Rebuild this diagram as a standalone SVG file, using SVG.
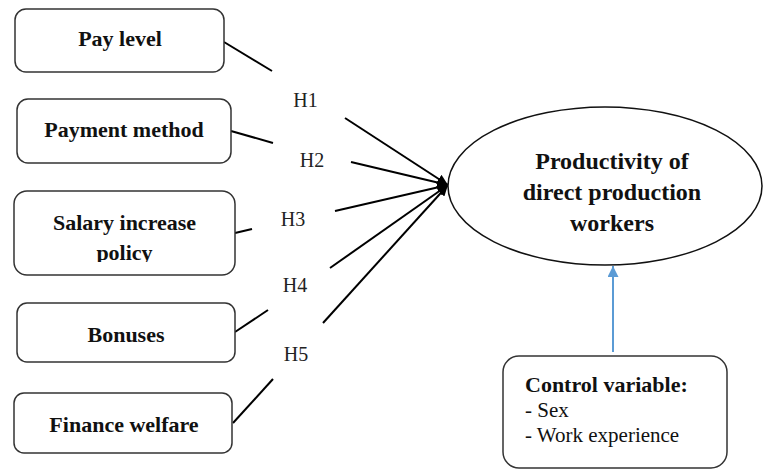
<svg xmlns="http://www.w3.org/2000/svg" width="764" height="470" viewBox="0 0 764 470">
<defs>
<style>
.box{fill:#fff;stroke:#333;stroke-width:1.5}
.lbl{font-family:"Liberation Serif","Times New Roman","DejaVu Serif",serif;font-weight:bold;font-size:22px;fill:#111;text-anchor:middle}
.h{font-family:"Liberation Serif","Times New Roman","DejaVu Serif",serif;font-size:20px;fill:#222;text-anchor:middle}
.ln{stroke:#000;stroke-width:2;fill:none}
.reg{font-family:"Liberation Serif","Times New Roman","DejaVu Serif",serif;font-size:21px;fill:#111}
</style>
<marker id="ah" markerUnits="userSpaceOnUse" markerWidth="12" markerHeight="10" refX="11" refY="5" orient="auto">
<path d="M0,0 L11,5 L0,10 Z" fill="#000"/>
</marker>
<marker id="bh" markerUnits="userSpaceOnUse" markerWidth="12" markerHeight="12" refX="11" refY="5.5" orient="auto">
<path d="M0,0 L11,5.5 L0,11 Z" fill="#5b9bd5"/>
</marker>
<clipPath id="clipS"><rect x="14" y="191" width="222" height="71"/></clipPath>
</defs>
<g id="connectors">
<line class="ln" x1="224" y1="42" x2="272" y2="71"/>
<line class="ln" x1="345" y1="118" x2="448" y2="185" marker-end="url(#ah)"/>
<line class="ln" x1="231" y1="131" x2="273" y2="143"/>
<line class="ln" x1="351" y1="162" x2="448" y2="185" marker-end="url(#ah)"/>
<line class="ln" x1="235" y1="233" x2="252" y2="229"/>
<line class="ln" x1="335" y1="211" x2="448" y2="185" marker-end="url(#ah)"/>
<line class="ln" x1="235" y1="332" x2="268" y2="310"/>
<line class="ln" x1="330" y1="268" x2="448" y2="185" marker-end="url(#ah)"/>
<line class="ln" x1="233" y1="423" x2="273" y2="379"/>
<line class="ln" x1="323" y1="323" x2="448" y2="185" marker-end="url(#ah)"/>
<line x1="613" y1="352" x2="613" y2="266" stroke="#5b9bd5" stroke-width="2" marker-end="url(#bh)"/>
<text class="h" x="305.5" y="107">H1</text>
<text class="h" x="312" y="167">H2</text>
<text class="h" x="293" y="226">H3</text>
<text class="h" x="295" y="292">H4</text>
<text class="h" x="296" y="361">H5</text>
</g>
<g id="pay-level">
<rect class="box" x="15" y="9" width="209" height="63" rx="11"/>
<text class="lbl" x="120" y="46">Pay level</text>
</g>
<g id="payment-method">
<rect class="box" x="17" y="99" width="214" height="64" rx="11"/>
<text class="lbl" x="124" y="137">Payment method</text>
</g>
<g id="salary-increase-policy">
<rect class="box" x="14" y="191" width="221" height="84" rx="13"/>
<g clip-path="url(#clipS)">
<text class="lbl" x="124.5" y="230">Salary increase</text>
<text class="lbl" x="124.5" y="260">policy</text>
</g>
</g>
<g id="bonuses">
<rect class="box" x="17" y="303" width="218" height="59" rx="10"/>
<text class="lbl" x="126" y="342">Bonuses</text>
</g>
<g id="finance-welfare">
<rect class="box" x="14" y="393" width="218" height="60" rx="10"/>
<text class="lbl" x="124" y="432">Finance welfare</text>
</g>
<g id="productivity">
<ellipse cx="605" cy="186" rx="157" ry="79" fill="#fff" stroke="#111" stroke-width="1.5"/>
<text class="lbl" style="font-size:24px" x="612" y="169">Productivity of</text>
<text class="lbl" style="font-size:24px" x="612" y="200">direct production</text>
<text class="lbl" style="font-size:24px" x="612" y="231">workers</text>
</g>
<g id="control-variable">
<rect class="box" x="503" y="356" width="224" height="112" rx="16"/>
<text class="lbl" style="text-anchor:start" x="525" y="392">Control variable:</text>
<text class="reg" x="525" y="417">- Sex</text>
<text class="reg" x="525" y="442">- Work experience</text>
</g>
</svg>
